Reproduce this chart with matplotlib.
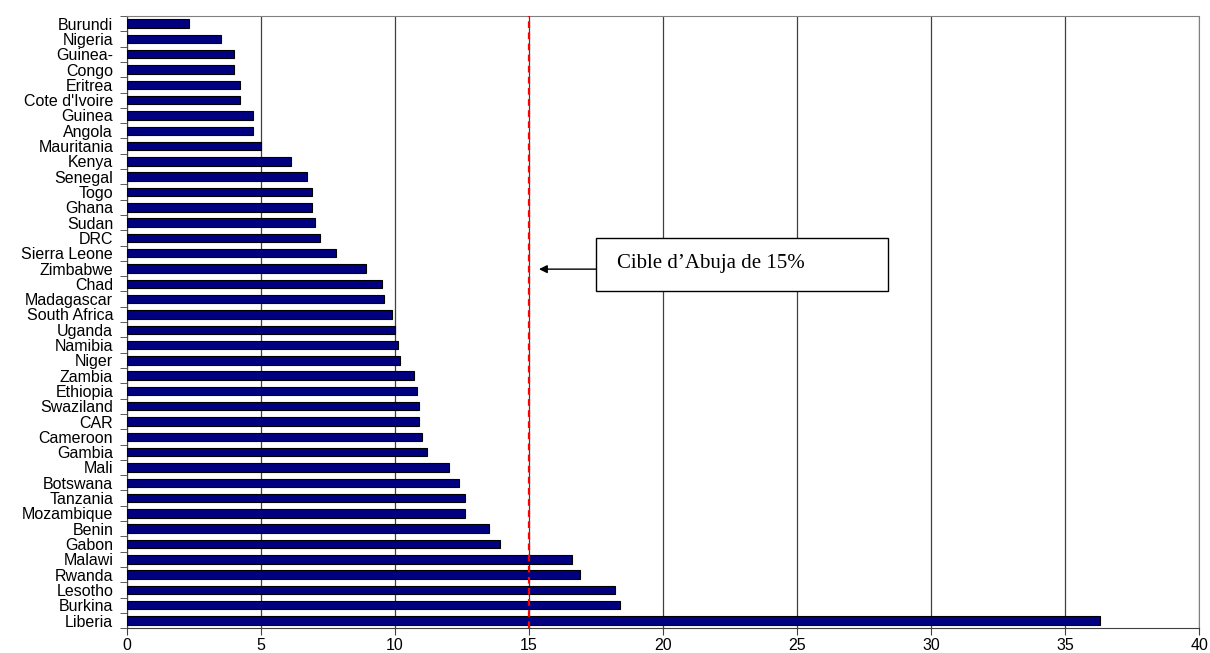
import matplotlib.pyplot as plt
import matplotlib.patches as mpatches
import numpy as np

# Part du budget consacree a la sante (%), du haut vers le bas
countries = ['Burundi', 'Nigeria', 'Guinea-', 'Congo', 'Eritrea', "Cote d'Ivoire",
             'Guinea', 'Angola', 'Mauritania', 'Kenya', 'Senegal', 'Togo', 'Ghana',
             'Sudan', 'DRC', 'Sierra Leone', 'Zimbabwe', 'Chad', 'Madagascar',
             'South Africa', 'Uganda', 'Namibia', 'Niger', 'Zambia', 'Ethiopia',
             'Swaziland', 'CAR', 'Cameroon', 'Gambia', 'Mali', 'Botswana', 'Tanzania',
             'Mozambique', 'Benin', 'Gabon', 'Malawi', 'Rwanda', 'Lesotho', 'Burkina',
             'Liberia']
values = [2.3, 3.5, 4.0, 4.0, 4.2, 4.2, 4.7, 4.7, 5.0, 6.1, 6.7, 6.9, 6.9, 7.0, 7.2,
          7.8, 8.9, 9.5, 9.6, 9.9, 10.0, 10.1, 10.2, 10.7, 10.8, 10.9, 10.9, 11.0,
          11.2, 12.0, 12.4, 12.6, 12.6, 13.5, 13.9, 16.6, 16.9, 18.2, 18.4, 36.3]
target = 15
x_ticks = [0, 5, 10, 15, 20, 25, 30, 35, 40]

fig = plt.figure(figsize=(12.1, 6.53), dpi=100)
ax = fig.add_axes([0.105, 0.038, 0.886, 0.9375])

y = np.arange(len(countries))
ax.barh(y, values, height=0.55, color='#000080', edgecolor='black', linewidth=0.8, zorder=3)

ax.set_xlim(0, 40)
ax.set_ylim(len(countries) - 0.5, -0.5)
ax.set_xticks(x_ticks)
ax.set_xticklabels([str(t) for t in x_ticks], fontsize=11.5, family='Liberation Sans')
ax.set_yticks(y)
ax.set_yticklabels(countries, fontsize=11.5, family='Liberation Sans')
ax.tick_params(axis='y', which='major', length=0, pad=10)
ax.set_yticks(np.arange(-0.5, len(countries), 1), minor=True)
ax.tick_params(axis='y', which='minor', length=5, direction='out', color='#404040')
ax.tick_params(axis='x', length=5, direction='out', color='#404040', pad=2)

ax.grid(axis='x', color='#404040', linewidth=0.9, zorder=1)
for side in ['left', 'bottom']:
    ax.spines[side].set_color('#404040')
for side in ['top', 'right']:
    ax.spines[side].set_color('#808080')

ax.axvline(target, color='red', linestyle=(0, (3, 2)), linewidth=1.6, zorder=4)

# encadre et fleche vers la cible
box = mpatches.Rectangle((17.5, 14.0), 10.9, 3.47, fc='white', ec='black', lw=1.0, zorder=5)
ax.add_patch(box)
ax.text(18.28, 15.64, 'Cible d\u2019Abuja de 15%', fontsize=15, family='Liberation Serif',
        va='center', ha='left', zorder=6)
ax.annotate('', xy=(15.37, 16.04), xytext=(17.5, 16.04),
            arrowprops=dict(arrowstyle='-|>', color='black', lw=1.0,
                            shrinkA=0, shrinkB=0, mutation_scale=12),
            zorder=6)

fig.savefig('out.png', dpi=100)
